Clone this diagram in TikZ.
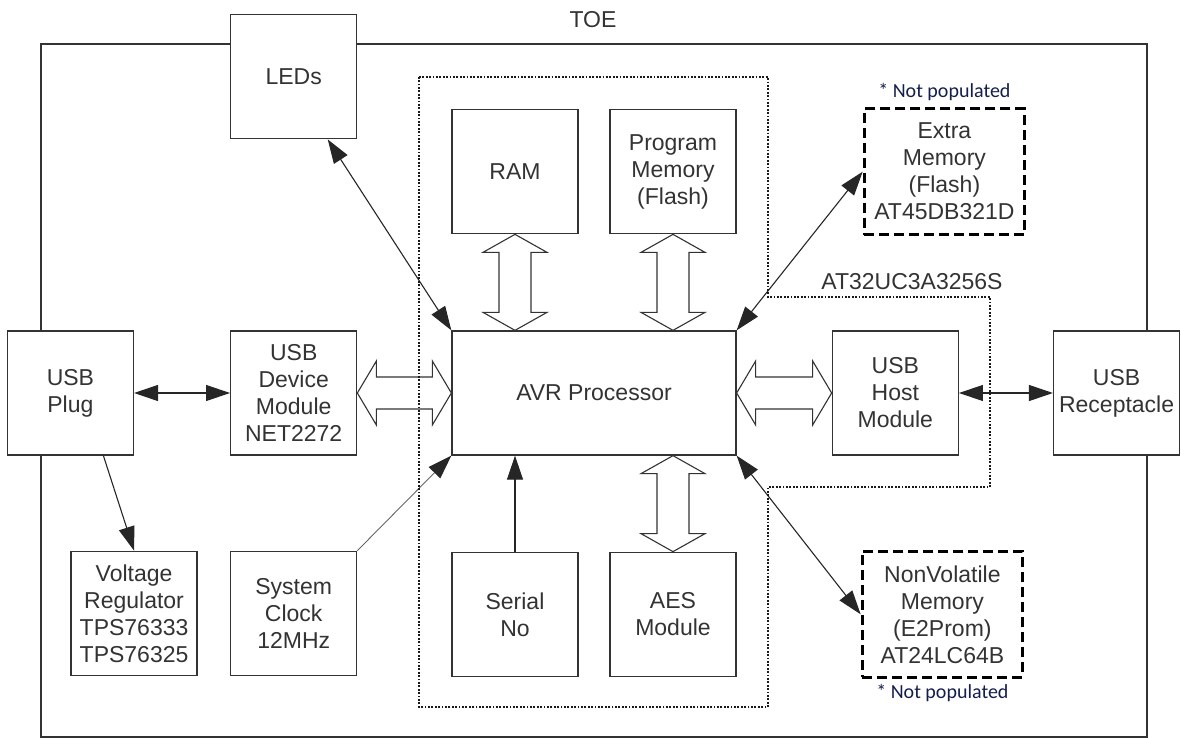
\documentclass[tikz,border=0pt]{standalone}
\usepackage{fontspec}
\setmainfont{Liberation Sans}
\newfontfamily\notefont{Carlito}
\usetikzlibrary{positioning, arrows.meta, calc}
\tikzset{
    x=1pt, y=-1pt, % one unit is one pixel, y grows downwards
    >={Triangle[length=24pt, width=16pt]}, % filled arrow heads
    every node/.style={text=black!80},
    box/.style={draw=black!80, line width=1.3pt, fill=white, minimum width=126pt, minimum height=124pt, inner sep=1pt, align=center, font=\fontsize{23}{27}\selectfont},
    notpop/.style={box, draw=black, line width=3.5pt, dash pattern=on 10pt off 5pt, minimum width=160pt, minimum height=126pt},
    tag/.style={font=\fontsize{23}{27}\selectfont},
    note/.style={font=\notefont\fontsize{20}{22}\selectfont, text={rgb,255:red,20;green,30;blue,75}},
    link/.style={line width=1.1pt, draw=black!85},
    bus/.style={line width=1.1pt, draw=black!80, fill=white},
    chip/.style={line width=1.3pt, dash pattern=on 1.8pt off 1.6pt, draw=black!90},
    }
% wide double arrow, left to right
\newcommand{\busH}[2]{%
  \draw[bus] (#1) -- ($(#1)+(19,-32)$) -- ($(#1)+(19,-16)$) -- ($(#2)+(-19,-16)$) -- ($(#2)+(-19,-32)$) -- (#2)
    -- ($(#2)+(-19,32)$) -- ($(#2)+(-19,16)$) -- ($(#1)+(19,16)$) -- ($(#1)+(19,32)$) -- cycle;}
% wide double arrow, top to bottom
\newcommand{\busV}[2]{%
  \draw[bus] (#1) -- ($(#1)+(32,18)$) -- ($(#1)+(16,18)$) -- ($(#2)+(16,-18)$) -- ($(#2)+(32,-18)$) -- (#2)
    -- ($(#2)+(-32,-18)$) -- ($(#2)+(-16,-18)$) -- ($(#1)+(-16,18)$) -- ($(#1)+(-32,18)$) -- cycle;}

\begin{document}
\begin{tikzpicture}
\useasboundingbox (0,0) rectangle (1181,738);

% TOE frame
\draw[line width=1.3pt, black!80] (41,44) rectangle (1147,737);
\node[tag] (toe) at (593,20) {TOE};

\node[box, minimum width=284pt] (avr) at (594,393) {AVR Processor};
\node[box, left=94pt of avr] (usbdev) {USB\\Device\\Module\\NET2272};
\node[box, left=96pt of usbdev] (usbplug) {USB\\Plug};
\node[box, right=95pt of avr] (usbhost) {USB\\Host\\Module};
\node[box, right=94pt of usbhost] (usbrec) {USB\\Receptacle};
\node[box, above=191pt of usbdev] (leds) {LEDs};
\node[box, below=95pt of usbdev] (sysclk) {System\\Clock\\12MHz};
\node[box, below right=95pt and 0pt of usbplug.south] (volt) {Voltage\\Regulator\\TPS76333\\TPS76325};
\node[box, above right=96pt and 0pt of avr.north west] (ram) {RAM};
\node[box, above left=96pt and 0pt of avr.north east] (prog) {Program\\Memory\\(Flash)};
\node[box, below right=96pt and 0pt of avr.south west] (serial) {Serial\\No};
\node[box, below left=96pt and 0pt of avr.south east] (aes) {AES\\Module};
\node[notpop, right=126pt of prog] (extmem) {Extra\\Memory\\(Flash)\\AT45DB321D};
\node[notpop, right=124pt of aes] (nvmem) {NonVolatile\\Memory\\(E2Prom)\\AT24LC64B};
\node[note, above=3pt of extmem] (note1) {* Not populated};
\node[note, below=2pt of nvmem] (note2) {* Not populated};

% wide buses
\coordinate (ramport) at (ram.south |- avr.north);
\coordinate (progport) at (prog.south |- avr.north);
\coordinate (aesport) at (aes.north |- avr.south);
\busV{ram.south}{ramport}
\busV{prog.south}{progport}
\busV{aesport}{aes.north}
\busH{usbdev.east}{avr.west}
\busH{avr.east}{usbhost.west}

% thin links
\draw[link, <->] ([xshift=34pt]leds.south) -- (avr.north west);
\draw[link, <->] (avr.north east) -- (extmem.west);
\draw[link, <->] (avr.south east) -- (nvmem.west);
\draw[link, <->] (usbplug.east) -- (usbdev.west);
\draw[link, ->] ([xshift=33pt]usbplug.south) -- (volt.north);
\draw[link, -{Triangle[length=24pt, width=16pt, color=black!85]}, draw=black!60, line width=0.9pt] (sysclk.north east) -- (avr.south west);
\draw[link, ->] (serial.north) -- (serial.north |- avr.south);
\draw[link, <->] (usbhost.east) -- (usbrec.west);

% microcontroller outline
\draw[chip] (419,77) -- (768,77) -- (768,297) -- (990,297) -- (990,487) -- (768,487) -- (768,707) -- (419,707) -- cycle;
\node[tag] (chipname) at (912,282) {AT32UC3A3256S};
\end{tikzpicture}
\end{document}
